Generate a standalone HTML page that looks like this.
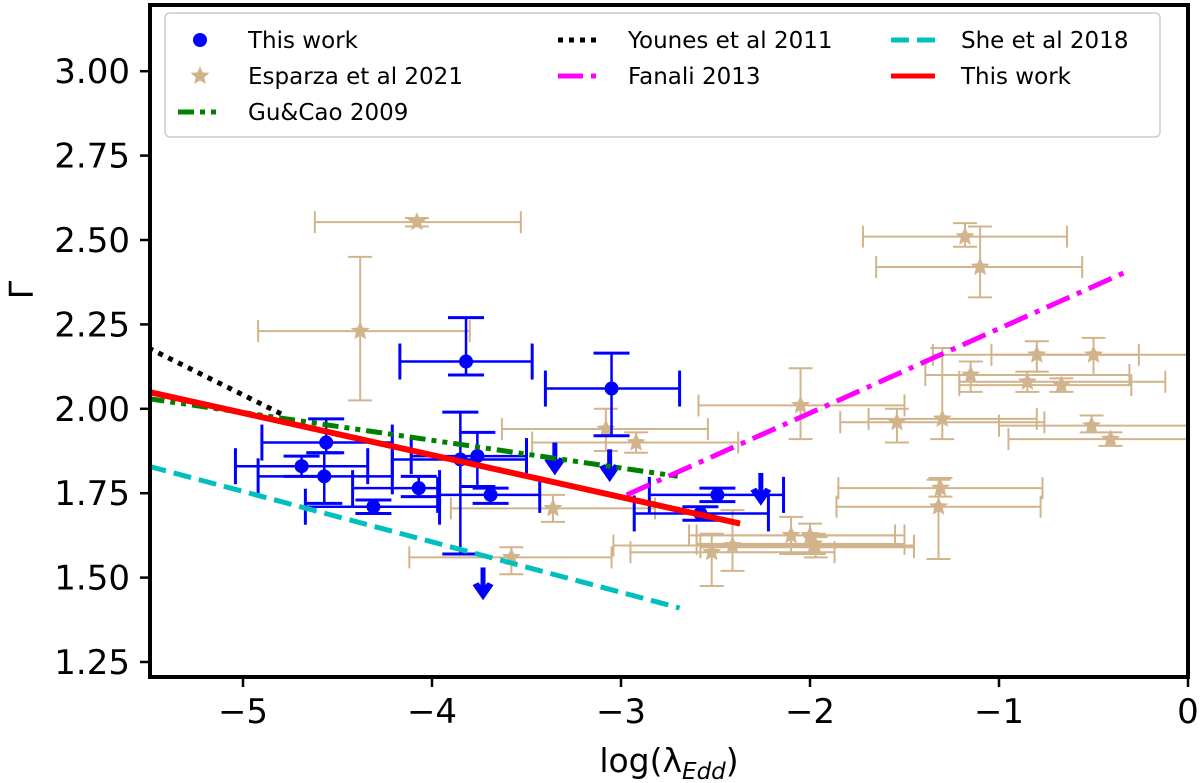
<!DOCTYPE html>
<html><head><meta charset="utf-8"><style>
html,body{margin:0;padding:0;background:#fff;}
svg{display:block;font-family:"DejaVu Sans","Liberation Sans",sans-serif;}
</style></head><body>
<svg id="chart" width="1200" height="783" viewBox="0 0 1200 783" xmlns="http://www.w3.org/2000/svg">
<g id="plot"></g>
<g id="axes"></g>
<g id="legend"></g>
</svg>
<script>
// ---- data ----
const xTicks = [-5, -4, -3, -2, -1, 0];
const xTickLabels = ["\u22125", "\u22124", "\u22123", "\u22122", "\u22121", "0"];
const yTicks = [1.25, 1.5, 1.75, 2.0, 2.25, 2.5, 2.75, 3.0];
const yTickLabels = ["1.25", "1.50", "1.75", "2.00", "2.25", "2.50", "2.75", "3.00"];

// This work: x, y, xlo, xhi, ylo, yhi
const blueX   = [-4.56, -4.69, -4.57, -4.31, -4.07, -3.85, -3.76, -3.69, -3.82, -3.05, -2.49, -2.58];
const blueY   = [1.90, 1.83, 1.80, 1.71, 1.765, 1.85, 1.86, 1.745, 2.14, 2.06, 1.745, 1.69];
const blueXlo = [-4.90, -5.04, -4.92, -4.67, -4.42, -4.21, -4.11, -3.97, -4.17, -3.40, -2.85, -2.93];
const blueXhi = [-4.21, -4.34, -4.21, -3.96, -3.96, -3.50, -3.50, -3.43, -3.47, -2.69, -2.14, -2.22];
const blueYlo = [1.87, 1.80, 1.72, 1.69, 1.74, 1.57, 1.77, 1.72, 2.10, 1.92, 1.725, 1.67];
const blueYhi = [1.97, 1.86, 1.87, 1.73, 1.80, 1.99, 1.93, 1.765, 2.27, 2.165, 1.765, 1.71];
// upper limits
const limX = [-3.35, -3.06, -3.73, -2.26];
const limY = [1.90, 1.88, 1.53, 1.81];

// Esparza et al 2021
const tanX   = [-4.08, -4.38, -1.18, -1.10, -2.05, -1.54, -1.30, -1.15, -0.85, -0.80, -0.50, -0.67, -0.51, -0.41, -1.31, -1.32, -3.08, -2.92, -3.36, -3.58, -2.52, -2.41, -2.10, -2.00, -1.98, -1.97];
const tanY   = [2.553, 2.23, 2.51, 2.42, 2.01, 1.96, 1.97, 2.10, 2.08, 2.16, 2.16, 2.07, 1.95, 1.91, 1.765, 1.71, 1.94, 1.90, 1.705, 1.56, 1.575, 1.595, 1.625, 1.625, 1.60, 1.59];
const tanXlo = [-4.62, -4.92, -1.72, -1.65, -2.59, -1.84, -1.69, -1.39, -1.21, -1.35, -1.04, -1.21, -1.00, -0.95, -1.85, -1.86, -3.63, -3.47, -3.90, -4.12, -2.95, -3.04, -2.64, -2.60, -2.60, -2.58];
const tanXhi = [-3.53, -3.80, -0.64, -0.56, -1.50, -0.76, -0.80, -0.31, -0.12, -0.26, 0.06, -0.30, 0.06, 0.06, -0.77, -0.78, -2.54, -2.38, -2.82, -3.05, -1.87, -1.45, -1.55, -1.50, -1.50, -1.45];
const tanYlo = [2.54, 2.025, 2.48, 2.33, 1.91, 1.90, 1.91, 2.05, 2.05, 2.11, 2.10, 2.05, 1.93, 1.89, 1.74, 1.555, 1.875, 1.87, 1.665, 1.51, 1.475, 1.52, 1.57, 1.57, 1.57, 1.56];
const tanYhi = [2.565, 2.45, 2.55, 2.54, 2.12, 2.00, 2.18, 2.14, 2.11, 2.20, 2.21, 2.09, 1.98, 1.93, 1.795, 1.79, 2.00, 1.93, 1.745, 1.59, 1.63, 1.70, 1.68, 1.66, 1.63, 1.62];

// Relations (endpoints)
const younesX = [-5.5, -4.78], younesY = [2.18, 1.98];
const guX = [-5.5, -2.70], guY = [2.03, 1.80];
const redX = [-5.5, -2.37], redY = [2.05, 1.66];
const sheX = [-5.5, -2.69], sheY = [1.83, 1.41];
const fanX = [-2.97, -0.31], fanY = [1.745, 2.41];

// ---- scales ----
const L = 150, R = 1188, T = 5, B = 677;
function sx(x){ return 1188 + 189 * x; }
function sy(y){ return 662 - (y - 1.25) * 337.6; }
const NS = "http://www.w3.org/2000/svg";
function mk(tag, attrs, parent){ const e = document.createElementNS(NS, tag); for (const k in attrs) e.setAttribute(k, attrs[k]); parent.appendChild(e); return e; }
const plot = document.getElementById('plot');
const axes = document.getElementById('axes');
const legend = document.getElementById('legend');

const clip = mk('clipPath', {id:'cp'}, plot);
mk('rect', {x:L, y:T, width:R-L, height:B-T}, clip);
const pg = mk('g', {'clip-path':'url(#cp)'}, plot);

function star(cx, cy, r){
  let p = [];
  for (let i=0;i<10;i++){ const a = -Math.PI/2 + i*Math.PI/5; const rr = i%2? r*0.45 : r; p.push((cx+rr*Math.cos(a)).toFixed(1)+','+(cy+rr*Math.sin(a)).toFixed(1)); }
  return p.join(' ');
}

for (let i=0;i<tanX.length;i++){
  const g = mk('g', {}, pg);
  
  
  const c = '#d2b48c', x = sx(tanX[i]), y = sy(tanY[i]);
  mk('line', {x1:sx(tanXlo[i]), x2:sx(tanXhi[i]), y1:y, y2:y, stroke:c, 'stroke-width':2}, g);
  mk('line', {x1:x, x2:x, y1:sy(tanYlo[i]), y2:sy(tanYhi[i]), stroke:c, 'stroke-width':2}, g);
  [tanXlo[i], tanXhi[i]].forEach(v => mk('line', {x1:sx(v), x2:sx(v), y1:y-11, y2:y+11, stroke:c, 'stroke-width':2}, g));
  [tanYlo[i], tanYhi[i]].forEach(v => mk('line', {x1:x-12, x2:x+12, y1:sy(v), y2:sy(v), stroke:c, 'stroke-width':2}, g));
  mk('polygon', {points:star(x, y, 10), fill:c}, g);
}
for (let i=0;i<blueX.length;i++){
  const g = mk('g', {}, pg);
  
  
  const c = '#0000ff', x = sx(blueX[i]), y = sy(blueY[i]);
  mk('line', {x1:sx(blueXlo[i]), x2:sx(blueXhi[i]), y1:y, y2:y, stroke:c, 'stroke-width':2.5}, g);
  mk('line', {x1:x, x2:x, y1:sy(blueYlo[i]), y2:sy(blueYhi[i]), stroke:c, 'stroke-width':2.5}, g);
  [blueXlo[i], blueXhi[i]].forEach(v => mk('line', {x1:sx(v), x2:sx(v), y1:y-18, y2:y+18, stroke:c, 'stroke-width':3}, g));
  [blueYlo[i], blueYhi[i]].forEach(v => mk('line', {x1:x-18, x2:x+18, y1:sy(v), y2:sy(v), stroke:c, 'stroke-width':3}, g));
  mk('circle', {cx:x, cy:y, r:7, fill:c}, g);
}
for (let i=0;i<limX.length;i++){
  const g = mk('g', {}, pg);
  
  
  const x = sx(limX[i]), y = sy(limY[i]);
  mk('line', {x1:x, x2:x, y1:y, y2:y+22, stroke:'#0000ff', 'stroke-width':5}, g);
  mk('polygon', {points:`${x-9},${y+18} ${x},${y+31} ${x+9},${y+18} ${x+5},${y+16} ${x},${y+22} ${x-5},${y+16}`, fill:'#0000ff', stroke:'#0000ff', 'stroke-width':2}, g);
}
function rel(xs, ys, color, dash, name){
  const l = mk('line', {x1:sx(xs[0]), y1:sy(ys[0]), x2:sx(xs[1]), y2:sy(ys[1]), stroke:color, 'stroke-width':5, 'stroke-dasharray':dash}, pg);
  
  
}
rel(younesX, younesY, '#000', '5 6', 'younes-2011-line');
rel(guX, guY, '#008000', '16 6 5 6 5 6', 'gu-cao-2009-line');
rel(sheX, sheY, '#00bfbf', '18 8', 'she-2018-line');
rel(fanX, fanY, '#ff00ff', '25 8 5 8', 'fanali-2013-line');
const rl = mk('line', {x1:sx(redX[0]), y1:sy(redY[0]), x2:sx(redX[1]), y2:sy(redY[1]), stroke:'#ff0000', 'stroke-width':6}, pg);



// ---- axes ----
const frame = mk('rect', {x:L, y:T, width:R-L, height:B-T, fill:'none', stroke:'#000', 'stroke-width':4}, axes);


xTicks.forEach((v,i) => {
  mk('line', {x1:sx(v), x2:sx(v), y1:B, y2:B+10, stroke:'#000', 'stroke-width':2.5}, axes);
  const t = mk('text', {x:sx(v), y:B+46, 'text-anchor':'middle', 'font-size':34, fill:'#000'}, axes);
  t.textContent = xTickLabels[i];
  
  
});
yTicks.forEach((v,i) => {
  mk('line', {x1:L-10, x2:L, y1:sy(v), y2:sy(v), stroke:'#000', 'stroke-width':2.5}, axes);
  const t = mk('text', {x:L-20, y:sy(v)+12, 'text-anchor':'end', 'font-size':34, fill:'#000'}, axes);
  t.textContent = yTickLabels[i];
  
  
});
const xl = mk('text', {x:669, y:772, 'text-anchor':'middle', 'font-size':33, fill:'#000'}, axes);
xl.innerHTML = 'log(\u03bb<tspan font-size="23" dy="7" font-style="italic">Edd</tspan><tspan dy="-7">)</tspan>';


const yl = mk('text', {x:0, y:0, 'text-anchor':'middle', 'font-size':33, fill:'#000', transform:'translate(33,290) rotate(-90)'}, axes);
yl.textContent = '\u0393';



// ---- legend ----
const lb = mk('rect', {x:165, y:13, width:995, height:124, rx:5, fill:'#fff', 'fill-opacity':0.85, stroke:'#ccc', 'stroke-width':1.5}, legend);


const entries = [
  {x:200, y:40, t:'This work', kind:'dot', n:'legend-this-work-points'},
  {x:200, y:76, t:'Esparza et al 2021', kind:'star', n:'legend-esparza'},
  {x:200, y:112, t:'Gu&Cao 2009', kind:'line', c:'#008000', d:'16 6 5 6 5 6', n:'legend-gu-cao'},
  {x:580, y:40, t:'Younes et al 2011', kind:'line', c:'#000', d:'5 6', n:'legend-younes'},
  {x:580, y:76, t:'Fanali 2013', kind:'line', c:'#ff00ff', d:'25 8 5 8', n:'legend-fanali'},
  {x:913, y:40, t:'She et al 2018', kind:'line', c:'#00bfbf', d:'18 8', n:'legend-she'},
  {x:913, y:76, t:'This work', kind:'line', c:'#ff0000', d:'none', n:'legend-this-work-fit'}
];
entries.forEach(e => {
  const g = mk('g', {}, legend);
  
  
  if (e.kind === 'dot') mk('circle', {cx:e.x, cy:e.y, r:7, fill:'#0000ff'}, g);
  else if (e.kind === 'star') mk('polygon', {points:star(e.x, e.y, 10), fill:'#d2b48c'}, g);
  else mk('line', {x1:e.x-22, x2:e.x+22, y1:e.y, y2:e.y, stroke:e.c, 'stroke-width':5, 'stroke-dasharray':e.d}, g);
  const t = mk('text', {x:e.x+48, y:e.y+8, 'font-size':23, fill:'#000'}, g);
  t.textContent = e.t;
});
</script>
</body></html>
